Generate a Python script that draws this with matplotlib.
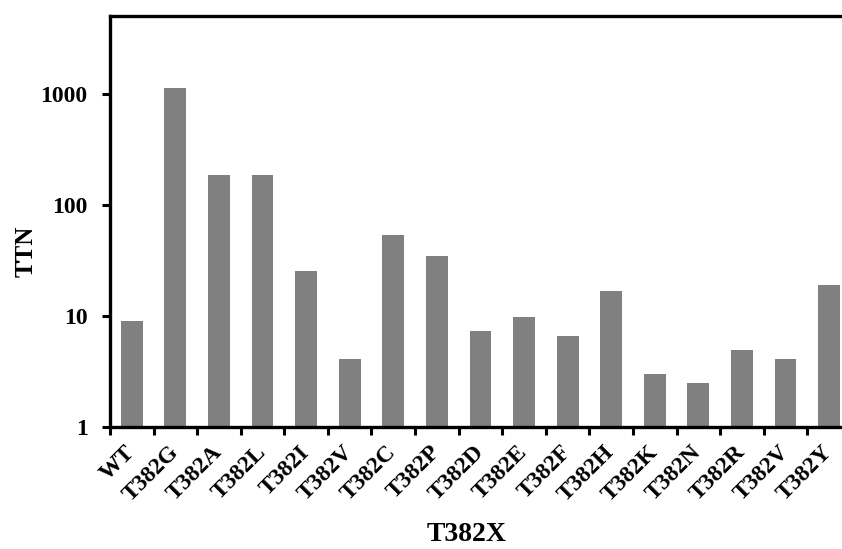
import matplotlib
matplotlib.use("Agg")
from matplotlib import pyplot as plt
from matplotlib.ticker import FixedLocator, NullLocator
import numpy as np

kategorie = ["WT", "T382G", "T382A", "T382L", "T382I", "T382V", "T382C", "T382P",
             "T382D", "T382E", "T382F", "T382H", "T382K", "T382N", "T382R", "T382V", "T382Y"]
ttn = [9.0, 1125, 184, 184, 25.6, 4.07, 53.6, 34.9,
       7.3, 9.7, 6.6, 16.7, 3.0, 2.5, 4.9, 4.07, 19.0]
y_ticki = [1, 10, 100, 1000]
y_etykiety = ["1", "10", "100", "1000"]

plt.rcParams["font.family"] = ["Liberation Serif", "DejaVu Serif"]
plt.rcParams["font.weight"] = "bold"

fig = plt.figure(figsize=(8.42, 5.49), dpi=100)
ax = fig.add_axes([0.1306, 0.2222, 0.88, 0.7486])

x = np.arange(len(kategorie))
ax.bar(x, ttn, width=0.5, color="#808080", bottom=0)

ax.set_yscale("log")
ax.set_ylim(1, 5000)
ax.set_xlim(-0.5, len(kategorie) - 0.5)

ax.yaxis.set_major_locator(FixedLocator(y_ticki))
ax.yaxis.set_minor_locator(NullLocator())
ax.set_yticklabels(y_etykiety, fontsize=17, fontweight="bold")

# ticki na granicach kategorii (jak w Excelu)
ax.set_xticks(np.arange(len(kategorie) + 1) - 0.5)
ax.set_xticklabels([])
ax.set_xticks(x, minor=True)
ax.set_xticklabels(kategorie, minor=True, rotation=45, ha="right", va="center",
                   rotation_mode="anchor", fontsize=17, fontweight="bold")
ax.tick_params(axis="x", which="minor", length=0, pad=16)
ax.tick_params(axis="x", which="major", length=6, width=2.2, direction="out")
ax.tick_params(axis="y", which="major", length=6, width=2.2, direction="out", pad=10)

for s in ["left", "top", "bottom", "right"]:
    ax.spines[s].set_linewidth(2.4)
    ax.spines[s].set_color("black")

ax.set_ylabel("TTN", fontsize=18, fontweight="bold")
ax.yaxis.set_label_coords(-0.097, 0.428)
ax.set_xlabel("T382X", fontsize=20, fontweight="bold")
ax.xaxis.set_label_coords(0.482, -0.232)

fig.savefig("out.png", dpi=100)
